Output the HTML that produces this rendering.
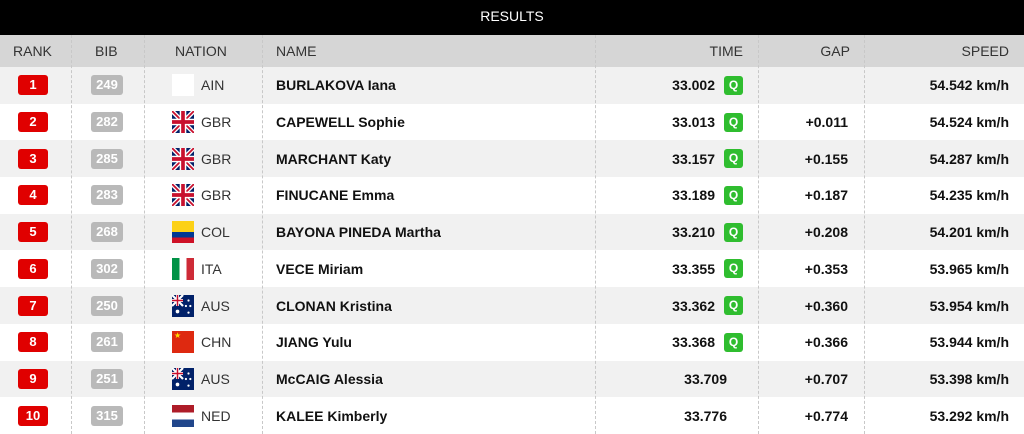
<!DOCTYPE html><html><head><meta charset="utf-8"><style>
*{margin:0;padding:0;box-sizing:border-box}
body{width:1024px;height:434px;overflow:hidden;background:#fff;font-family:"Liberation Sans",Arial,sans-serif;position:relative}
.top{position:absolute;left:0;top:0;width:1024px;height:35px;background:#000;color:#fff;font-size:14px;text-align:center;line-height:33px}
.hdr{position:absolute;left:0;top:35px;width:1024px;height:32px;background:#d6d6d6;color:#333;font-size:14px}
.row{position:absolute;left:0;width:1024px;height:36.7px;font-size:14px;color:#111}
.odd{background:#f1f1f1}
.c{position:absolute;top:0;height:100%;display:flex;align-items:center}
.vl{position:absolute;top:35px;height:399px;border-left:1px dashed #c8c8c8;z-index:5}
.rk{position:absolute;left:18px;width:30px;height:20px;background:#e00000;color:#fff;font-weight:bold;border-radius:3px;text-align:center;line-height:20px;font-size:13px}
.bib{position:absolute;left:91px;width:32px;height:20px;background:#b9b9b9;color:#fff;font-weight:bold;border-radius:3px;text-align:center;line-height:20px;font-size:13px}
.fl{position:absolute;left:172px;width:22px;height:22px}
.nat{position:absolute;left:201px;color:#333}
.nm{position:absolute;left:276px;font-weight:bold}
.tm{position:absolute;font-weight:bold}
.q{position:absolute;left:724px;width:19px;height:19px;background:#2fbd2f;color:#fff;font-weight:bold;border-radius:3px;text-align:center;line-height:19px;font-size:12px}
.gp{position:absolute;right:176px;font-weight:bold}
.sp{position:absolute;right:15px;font-weight:bold}
</style></head><body>
<div class="top">RESULTS</div>
<div class="hdr">
<div class="c" style="left:13px">RANK</div>
<div class="c" style="left:95px">BIB</div>
<div class="c" style="left:175px">NATION</div>
<div class="c" style="left:276px">NAME</div>
<div class="c" style="right:281px">TIME</div>
<div class="c" style="right:174px">GAP</div>
<div class="c" style="right:15px">SPEED</div>
</div>
<svg width="0" height="0" style="position:absolute"><defs>
<symbol id="gbr" viewBox="0 0 60 60"><rect width="60" height="60" fill="#012169"/><path d="M0,0L60,60M60,0L0,60" stroke="#fff" stroke-width="12"/><path d="M0,0L60,60M60,0L0,60" stroke="#C8102E" stroke-width="5"/><path d="M30,0V60M0,30H60" stroke="#fff" stroke-width="18"/><path d="M30,0V60M0,30H60" stroke="#C8102E" stroke-width="10"/></symbol>
<symbol id="aus" viewBox="0 0 60 60"><rect width="60" height="60" fill="#012169"/><path d="M0,0L30,30M30,0L0,30" stroke="#fff" stroke-width="6"/><path d="M15,0V30M0,15H30" stroke="#fff" stroke-width="8"/><path d="M15,0V30M0,15H30" stroke="#C8102E" stroke-width="4"/><circle cx="15" cy="45" r="5" fill="#fff"/><circle cx="45" cy="15" r="3" fill="#fff"/><circle cx="50" cy="30" r="3" fill="#fff"/><circle cx="45" cy="48" r="3" fill="#fff"/><circle cx="38" cy="30" r="3" fill="#fff"/></symbol>
</defs></svg>
<div id="rows"></div>
<div class="vl" style="left:71px"></div><div class="vl" style="left:144px"></div><div class="vl" style="left:262px"></div><div class="vl" style="left:595px"></div><div class="vl" style="left:758px"></div><div class="vl" style="left:864px"></div>
<script>
const f={
AIN:'<div style="width:22px;height:22px;background:#fff"></div>',
GBR:'<svg width="22" height="22"><use href="#gbr"/></svg>',
AUS:'<svg width="22" height="22"><use href="#aus"/></svg>',
COL:'<div style="width:22px;height:22px;background:linear-gradient(#fcd116 0 50%,#003893 50% 75%,#ce1126 75%)"></div>',
ITA:'<div style="width:22px;height:22px;background:linear-gradient(90deg,#009246 0 33%,#fff 33% 67%,#ce2b37 67%)"></div>',
CHN:'<div style="width:22px;height:22px;background:#de2910;color:#ffde00;font-size:8px;line-height:9px;padding-left:2px">★</div>',
NED:'<div style="width:22px;height:22px;background:linear-gradient(#ae1c28 0 33%,#fff 33% 67%,#21468b 67%)"></div>'};
const d=[[249,'AIN','BURLAKOVA Iana','33.002',1,'','54.542'],[282,'GBR','CAPEWELL Sophie','33.013',1,'+0.011','54.524'],[285,'GBR','MARCHANT Katy','33.157',1,'+0.155','54.287'],[283,'GBR','FINUCANE Emma','33.189',1,'+0.187','54.235'],[268,'COL','BAYONA PINEDA Martha','33.210',1,'+0.208','54.201'],[302,'ITA','VECE Miriam','33.355',1,'+0.353','53.965'],[250,'AUS','CLONAN Kristina','33.362',1,'+0.360','53.954'],[261,'CHN','JIANG Yulu','33.368',1,'+0.366','53.944'],[251,'AUS','McCAIG Alessia','33.709',0,'+0.707','53.398'],[315,'NED','KALEE Kimberly','33.776',0,'+0.774','53.292']];
let h='';d.forEach((r,i)=>{const t=67+i*36.7;
h+=`<div class="row ${i%2==0?'odd':''}" style="top:${t}px">
<div class="c" style="left:0;width:100%"><div class="rk">${i+1}</div><div class="bib">${r[0]}</div><div class="fl">${f[r[1]]}</div><span class="nat">${r[1]}</span><span class="nm">${r[2]}</span><span class="tm" style="right:${r[4]?309:297}px">${r[3]}</span>${r[4]?'<div class="q">Q</div>':''}<span class="gp">${r[5]}</span><span class="sp">${r[6]} km/h</span></div></div>`});
document.getElementById('rows').innerHTML=h;
</script>
</body></html>
